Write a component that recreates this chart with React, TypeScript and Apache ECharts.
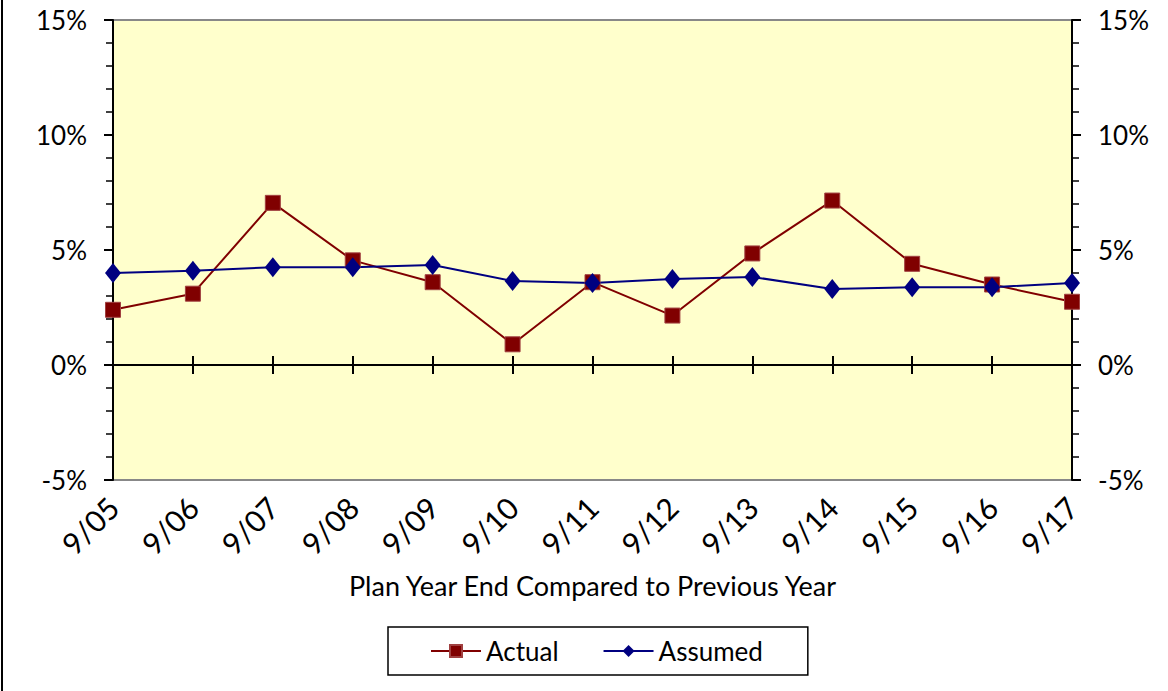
import React, { useEffect, useRef } from "react";
import * as echarts from "echarts";

const categories = ["9/05", "9/06", "9/07", "9/08", "9/09", "9/10", "9/11", "9/12", "9/13", "9/14", "9/15", "9/16", "9/17"];
const actual = [2.4, 3.1, 7.05, 4.55, 3.6, 0.9, 3.6, 2.15, 4.85, 7.15, 4.4, 3.5, 2.75];
const assumed = [4.0, 4.1, 4.25, 4.25, 4.35, 3.65, 3.57, 3.74, 3.83, 3.3, 3.38, 3.38, 3.57];
const axisTitle = "Plan Year End Compared to Previous Year";
const FONT = "Lato, 'Open Sans', sans-serif";
const FS = 26;

export default function App() {
  const ref = useRef<HTMLDivElement>(null);
  useEffect(() => {
    if (!ref.current) return;
    const chart = echarts.init(ref.current, undefined, { renderer: "svg" });
    const yAxisBase = (position: "left" | "right") => ({
      type: "value",
      position,
      min: -5,
      max: 15,
      interval: 5,
      axisLine: { show: true, lineStyle: { color: "#000", width: 2 } },
      axisTick: { show: true, length: 9, lineStyle: { color: "#000", width: 2 } },
      minorTick: { show: true, splitNumber: 5, length: 7, lineStyle: { color: "#000", width: 1.5 } },
      splitLine: { show: false },
      axisLabel: {
        formatter: "{value}%",
        color: "#000",
        fontSize: FS,
        fontFamily: FONT,
        margin: 26,
      },
    });
    chart.setOption({
      animation: false,
      backgroundColor: "#fff",
      grid: {
        left: 113,
        right: 96,
        top: 20,
        bottom: 211,
        show: true,
        backgroundColor: "#FFFFCC",
        borderColor: "#888",
        borderWidth: 2,
      },
      xAxis: [
        {
          type: "category",
          data: categories,
          boundaryGap: false,
          position: "bottom",
          axisLine: { show: true, onZero: true, lineStyle: { color: "#000", width: 2 } },
          axisTick: { show: true, length: 9, alignWithLabel: true, lineStyle: { color: "#000", width: 2 } },
          axisLabel: { show: false },
        },
        {
          type: "category",
          data: categories,
          boundaryGap: false,
          position: "bottom",
          axisLine: { show: false, onZero: true },
          axisTick: { show: true, inside: true, length: 9, lineStyle: { color: "#000", width: 2 } },
          axisLabel: { show: false },
        },
        {
          type: "category",
          data: categories,
          boundaryGap: false,
          position: "bottom",
          axisLine: { show: false, onZero: false },
          axisTick: { show: false },
          axisLabel: {
            show: true,
            rotate: 45,
            interval: 0,
            color: "#000",
            fontSize: 30,
            fontFamily: FONT,
            margin: 22,
          },
          name: axisTitle,
          nameLocation: "middle",
          nameGap: 92,
          nameTextStyle: { color: "#000", fontSize: 27, fontFamily: FONT },
        },
      ],
      yAxis: [yAxisBase("left"), yAxisBase("right")],
      legend: {
        left: 388,
        top: 627,
        padding: [11, 45, 11, 42],
        borderColor: "#000",
        borderWidth: 1.5,
        itemWidth: 50,
        itemHeight: 15,
        itemGap: 44,
        textStyle: { color: "#000", fontSize: FS, fontFamily: FONT },
        data: ["Actual", "Assumed"],
      },
      series: [
        {
          name: "Actual",
          type: "line",
          data: actual,
          xAxisIndex: 0,
          yAxisIndex: 0,
          symbol: "rect",
          symbolSize: 15,
          lineStyle: { color: "#800000", width: 2 },
          itemStyle: { color: "#800000", borderColor: "#A04040", borderWidth: 1 },
        },
        {
          name: "Assumed",
          type: "line",
          data: assumed,
          xAxisIndex: 0,
          yAxisIndex: 0,
          symbol: "diamond",
          symbolSize: [16, 20],
          lineStyle: { color: "#000080", width: 2 },
          itemStyle: { color: "#000080" },
        },
      ],
      graphic: [
        {
          type: "line",
          shape: { x1: 2, y1: 0, x2: 2, y2: 691 },
          style: { stroke: "#000", lineWidth: 2 },
        },
      ],
    });
    return () => chart.dispose();
  }, []);
  return <div ref={ref} style={{ position: "fixed", left: 0, top: 0, width: 1168, height: 691 }} />;
}
